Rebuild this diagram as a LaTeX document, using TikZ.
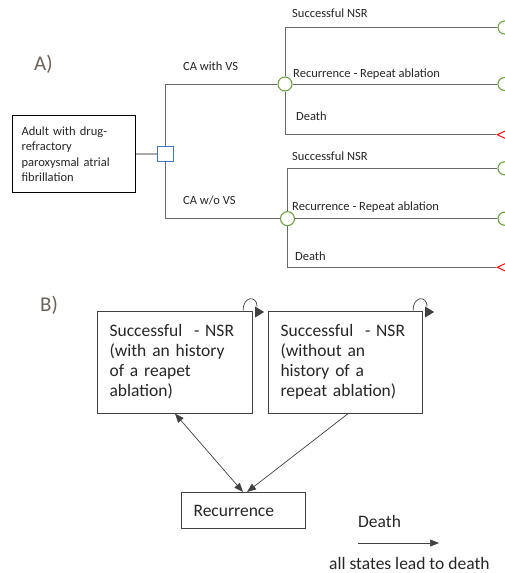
\documentclass[tikz,border=0pt]{standalone}
\usepackage{fontspec}
\setmainfont{Carlito}
\usetikzlibrary{arrows.meta,shapes.geometric}
\definecolor{treeline}{RGB}{105,105,105}
\definecolor{txt}{RGB}{38,38,38}
\definecolor{dgreen}{RGB}{112,160,71}
\definecolor{dblue}{RGB}{68,114,196}
\definecolor{lbl}{RGB}{107,98,90}
\definecolor{bline}{RGB}{64,64,64}
\definecolor{lgray}{RGB}{170,170,170}
\begin{document}
\begin{tikzpicture}[x=1pt,y=-1pt,
  treetxt/.style={font=\fontsize{12.5}{15.3}\selectfont, text=txt, anchor=base west, inner sep=0pt},
  btxt/.style={font=\fontsize{17.5}{20}\selectfont, text=txt, anchor=base west, inner sep=0pt},
  panel/.style={font=\fontsize{21}{24}\selectfont, text=lbl, anchor=base west, inner sep=0pt},
  tree/.style={draw=treeline, line width=0.9pt},
  chance/.style={circle, draw=dgreen, fill=white, line width=1.1pt, minimum size=14pt, inner sep=0pt},
  term/.style={circle, draw=dgreen, fill=white, line width=1.1pt, minimum size=13pt, inner sep=0pt},
  deathtri/.style={isosceles triangle, shape border rotate=180, draw=red, line width=0.9pt, minimum height=12pt, minimum width=11pt, inner sep=0pt, isosceles triangle stretches},
  bbox/.style={draw=bline, line width=1.1pt, anchor=north west, align=left, inner xsep=12pt, inner ysep=0pt, font=\fontsize{17.5}{20}\selectfont, text=txt},
  barrow/.style={draw=bline, line width=0.7pt},
  btip/.tip={Triangle[length=9pt,width=7pt]}
]
\useasboundingbox (0,0) rectangle (505,573);

% ---------- Panel A ----------
\node[panel] (pa) at (34,70) {A)};

\node[draw=black, line width=1.2pt, anchor=north west, minimum width=123pt, minimum height=77pt,
      text width=105pt, inner xsep=9pt, inner ysep=0pt, align=left,
      font=\fontsize{12.5}{15.3}\selectfont, text=txt] (pt) at (12,115)
  {Adult with drug-\\refractory\\paroxysmal atrial\\fibrillation};

\node[draw=dblue, fill=white, line width=1pt, minimum width=15.5pt, minimum height=15pt, inner sep=0pt] (dec) at (165.5,153.8) {};
\draw[draw=lgray, line width=2pt] (pt.east |- dec.west) -- (dec.west);

\node[chance] (c1) at (285,84) {};
\node[chance] (c2) at (287.5,218.7) {};

\draw[tree] (dec.north) |- (c1.west);
\draw[tree] (dec.south) |- (c2.west);

\node[treetxt] (lca1) at (183,70.5) {CA with VS};
\node[treetxt] (lca2) at (183,204) {CA w/o VS};

% terminal nodes branch 1
\node[term] (t1a) at (504.5,27.5) {};
\node[term] (t1b) at (504.5,84) {};
\node[deathtri, anchor=apex] (t1c) at (496,134.7) {};
% terminal nodes branch 2
\node[term] (t2a) at (504.5,168.3) {};
\node[term] (t2b) at (504.5,218.7) {};
\node[deathtri, anchor=apex] (t2c) at (496,267.3) {};

\draw[tree] (c1.north) |- (t1a.west);
\draw[tree] (c1.east) -- (t1b.west);
\draw[tree] (c1.south) |- (t1c.apex);
\draw[tree] (c2.north) |- (t2a.west);
\draw[tree] (c2.east) -- (t2b.west);
\draw[tree] (c2.south) |- (t2c.apex);

\node[treetxt] (n1) at (292,17) {Successful NSR};
\node[treetxt] (r1) at (293,77.3) {Recurrence - Repeat ablation};
\node[treetxt] (d1) at (296,120.7) {Death};
\node[treetxt] (n2) at (292,160.7) {Successful NSR};
\node[treetxt] (r2) at (292,210.3) {Recurrence - Repeat ablation};
\node[treetxt] (d2) at (295,260) {Death};

% ---------- Panel B ----------
\node[panel] (pb) at (40,311) {B)};

\node[bbox, minimum width=155pt, minimum height=102pt, text width=131pt] (s1) at (97,310.5)
  {Successful\ \ - NSR\\(with an history\\of a reapet\\ablation)};
\node[bbox, minimum width=154pt, minimum height=102pt, text width=130pt] (s2) at (268,310.5)
  {Successful\ \ - NSR\\(without an\\history of a\\repeat ablation)};
\node[bbox, minimum width=124pt, minimum height=36pt, text width=100pt] (rec) at (181,492)
  {Recurrence};

% self loops
\draw[barrow, shift={(s1.north east)}] (-10,0) .. controls (-10,-15) and (4,-15) .. (4,-4);
\fill[bline, shift={(s1.north east)}] (2,-4) -- (11,1.5) -- (2,7) -- cycle;
\draw[barrow, shift={(s2.north east)}] (-10,0) .. controls (-10,-15) and (4,-15) .. (4,-4);
\fill[bline, shift={(s2.north east)}] (2,-4) -- (11,1.5) -- (2,7) -- cycle;

% transitions
\draw[barrow, {btip}-{btip}] ([xshift=78pt]s1.south west) -- ([xshift=62pt]rec.north west);
\draw[barrow, -{btip}] ([xshift=-75pt]s2.south east) -- ([xshift=66pt]rec.north west);

% death legend
\node[btxt] (dl) at (358,527.7) {Death};
\coordinate (da) at (358,543);
\coordinate (db) at (439,543);
\draw[barrow, -{btip}] (da) -- (db);
\node[btxt] (al) at (329,569) {all states lead to death};
\end{tikzpicture}
\end{document}
